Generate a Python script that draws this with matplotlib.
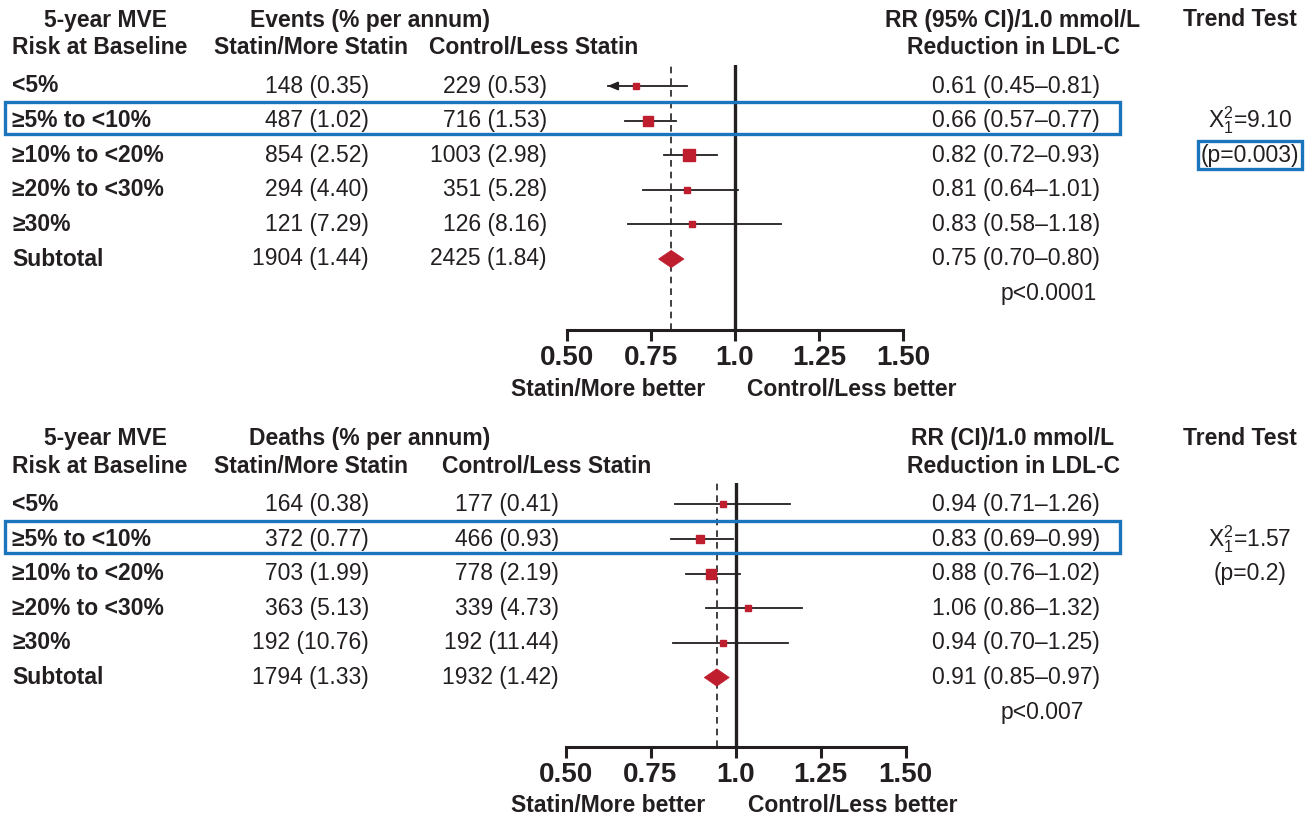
import matplotlib
matplotlib.use("Agg")
import matplotlib.pyplot as plt
from matplotlib.transforms import blended_transform_factory
from matplotlib.patches import Rectangle, Polygon

plt.rcParams['font.family'] = ['Liberation Sans', 'DejaVu Sans']
plt.rcParams['mathtext.default'] = 'regular'

# -------------------------------------------------
#  Data
# -------------------------------------------------
risk_groups = ['<5%', '≥5% to <10%', '≥10% to <20%', '≥20% to <30%', '≥30%', 'Subtotal']

# panel 1: major vascular events
ev_statin = [148, 487, 854, 294, 121, 1904]
ev_statin_pct = [0.35, 1.02, 2.52, 4.40, 7.29, 1.44]
ev_control = [229, 716, 1003, 351, 126, 2425]
ev_control_pct = [0.53, 1.53, 2.98, 5.28, 8.16, 1.84]
ev_rr = [0.61, 0.66, 0.82, 0.81, 0.83, 0.75]
ev_lo = [0.45, 0.57, 0.72, 0.64, 0.58, 0.70]
ev_hi = [0.81, 0.77, 0.93, 1.01, 1.18, 0.80]
ev_p = 'p<0.0001'
ev_chi2 = '9.10'
ev_trend_p = '0.003'

# panel 2: deaths
dt_statin = [164, 372, 703, 363, 192, 1794]
dt_statin_pct = [0.38, 0.77, 1.99, 5.13, 10.76, 1.33]
dt_control = [177, 466, 778, 339, 192, 1932]
dt_control_pct = [0.41, 0.93, 2.19, 4.73, 11.44, 1.42]
dt_rr = [0.94, 0.83, 0.88, 1.06, 0.94, 0.91]
dt_lo = [0.71, 0.69, 0.76, 0.86, 0.70, 0.85]
dt_hi = [1.26, 0.99, 1.02, 1.32, 1.25, 0.97]
dt_p = 'p<0.007'
dt_chi2 = '1.57'
dt_trend_p = '0.2'

axis_ticks = [0.50, 0.75, 1.0, 1.25, 1.50]
axis_ticklabels = ['0.50', '0.75', '1.0', '1.25', '1.50']

# -------------------------------------------------
#  Style
# -------------------------------------------------
W, H = 1306, 819
TXT = '#231f20'
RED = '#be1e2d'
BLUE = '#1b75bc'
FS = 16.5
CLIP_LO = 0.5

fig = plt.figure(figsize=(W / 100, H / 100), dpi=100)


def fx(px):
    return px / W


def fy(py):
    return 1 - py / H


def fmt_ev(n, pct):
    return f'{n} ({pct:.2f})'


def fmt_rr(r, lo, hi):
    return f'{r:.2f} ({lo:.2f}–{hi:.2f})'


# -------------------------------------------------
#  One forest panel
# -------------------------------------------------
def draw_panel(top_px, row0_px, axis_px, one_px, data_px, tick_px,
               headers, statin, statin_pct, control, control_pct,
               rr, lo, hi, p_text, chi2, trend_p, box_trend,
               col1_right, col2_right, sizes):
    row_h = 34.6
    ax = fig.add_axes([0, fy(axis_px), 1, (axis_px - top_px) / H])
    ax.set_xlim(1 - one_px / data_px, 1 + (W - one_px) / data_px)
    ax.set_ylim((axis_px - row0_px) / row_h, (top_px - row0_px) / row_h)
    ax.patch.set_alpha(0)
    for s in ['top', 'left', 'right']:
        ax.spines[s].set_visible(False)
    ax.set_yticks([])
    ax.set_xticks([])

    # tick labels follow their own spacing along the drawn axis
    k = data_px / tick_px
    fwd = lambda x: 1 + (x - 1) * k
    inv = lambda t: 1 + (t - 1) / k
    ax.spines['bottom'].set_bounds(inv(axis_ticks[0]), inv(axis_ticks[-1]))
    ax.spines['bottom'].set_linewidth(2.2)
    ax.spines['bottom'].set_color(TXT)
    sec = ax.secondary_xaxis('bottom', functions=(fwd, inv))
    sec.spines['bottom'].set_visible(False)
    sec.set_xticks(axis_ticks, labels=axis_ticklabels)
    sec.tick_params(length=8, width=2.2, color=TXT, pad=3, labelsize=20,
                    labelcolor=TXT)
    for lab in sec.get_xticklabels():
        lab.set_fontweight('bold')

    ax.axvline(1.0, color=TXT, lw=2.4, zorder=2)
    ax.axvline(rr[-1], color=TXT, lw=1.2, ls=(0, (4, 3)), zorder=1)

    tr = blended_transform_factory(fig.transFigure, ax.transData)
    n = len(risk_groups)
    for i in range(n):
        bold = dict(fontweight='bold')
        ax.text(fx(12), i, risk_groups[i], transform=tr, ha='left', va='center',
                fontsize=FS, color=TXT, **bold)
        ax.text(fx(col1_right), i, fmt_ev(statin[i], statin_pct[i]), transform=tr,
                ha='right', va='center', fontsize=FS, color=TXT)
        ax.text(fx(col2_right), i, fmt_ev(control[i], control_pct[i]), transform=tr,
                ha='right', va='center', fontsize=FS, color=TXT)
        ax.text(fx(1100), i, fmt_rr(rr[i], lo[i], hi[i]), transform=tr,
                ha='right', va='center', fontsize=FS, color=TXT)

        if i < n - 1:
            left = max(lo[i], CLIP_LO)
            ax.plot([left, hi[i]], [i, i], color=TXT, lw=1.3, zorder=3)
            if lo[i] < CLIP_LO:
                ax.annotate('', xy=(CLIP_LO, i), xytext=(CLIP_LO + 0.04, i),
                            arrowprops=dict(arrowstyle='-|>,head_length=0.6,head_width=0.25',
                                            color=TXT, lw=1.3, shrinkA=0, shrinkB=0))
            ax.plot(rr[i], i, marker='s', ms=sizes[i], color=RED, mec=RED, zorder=4)
        else:
            h = 0.25
            ax.add_patch(Polygon([(lo[i], i), (rr[i], i - h), (hi[i], i), (rr[i], i + h)],
                                 closed=True, fc=RED, ec=RED, lw=0.5, zorder=4))

    ax.text(fx(1001), n, p_text, transform=tr, ha='left', va='center',
            fontsize=FS, color=TXT)

    # highlighted row
    ax.add_patch(Rectangle((fx(5), 1 - 0.53), fx(1115), 0.92, transform=tr,
                           fill=False, ec=BLUE, lw=2.4, clip_on=False, zorder=5))

    # trend test
    ax.text(fx(1250), 1, r'$X_1^2$=' + chi2, transform=tr, ha='center', va='center',
            fontsize=FS, color=TXT)
    bbox = None
    if box_trend:
        bbox = dict(boxstyle='square,pad=0.12', fc='none', ec=BLUE, lw=2.4)
    ax.text(fx(1250), 2, f'(p={trend_p})', transform=tr, ha='center', va='center',
            fontsize=FS, color=TXT, bbox=bbox)

    # headers
    y1, y2 = row0_px - 66, row0_px - 38
    hb = dict(fontsize=FS, fontweight='bold', color=TXT, va='center', ha='center')
    fig.text(fx(106), fy(y1), '5-year MVE', **hb)
    fig.text(fx(100), fy(y2), 'Risk at Baseline', **hb)
    fig.text(fx(370), fy(y1), headers[0], **hb)
    fig.text(fx(311), fy(y2), 'Statin/More Statin', **hb)
    fig.text(fx(headers[3]), fy(y2), 'Control/Less Statin', **hb)
    fig.text(fx(1013), fy(y1), headers[1], **hb)
    fig.text(fx(1013), fy(y2), 'Reduction in LDL-C', **hb)
    fig.text(fx(1240), fy(y1), 'Trend Test', **hb)

    yb = axis_px + 59
    fig.text(fx(one_px - 30), fy(yb), 'Statin/More better', fontsize=FS,
             fontweight='bold', color=TXT, ha='right', va='center')
    fig.text(fx(one_px + 12), fy(yb), 'Control/Less better', fontsize=FS,
             fontweight='bold', color=TXT, ha='left', va='center')


draw_panel(65, 86, 330, 735, 255, 336,
           ('Events (% per annum)', 'RR (95% CI)/1.0 mmol/L', None, 534),
           ev_statin, ev_statin_pct, ev_control, ev_control_pct,
           ev_rr, ev_lo, ev_hi, ev_p, ev_chi2, ev_trend_p, True,
           369, 547, [5, 7, 8.5, 5, 4])

draw_panel(483, 504.5, 747, 735.5, 208, 340,
           ('Deaths (% per annum)', 'RR (CI)/1.0 mmol/L', None, 547),
           dt_statin, dt_statin_pct, dt_control, dt_control_pct,
           dt_rr, dt_lo, dt_hi, dt_p, dt_chi2, dt_trend_p, False,
           369, 559, [4.3, 5.8, 6.5, 4.7, 4.3])

fig.savefig('out.png', dpi=100)
